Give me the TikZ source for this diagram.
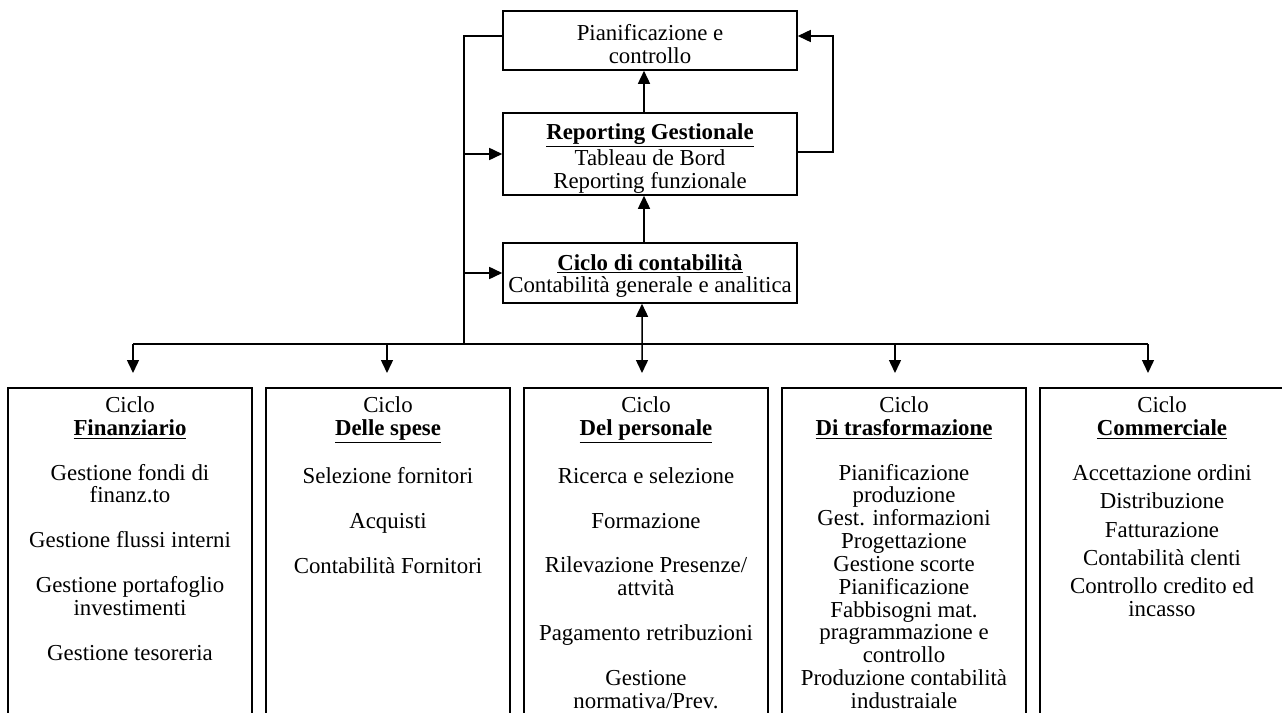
\documentclass[tikz,border=0pt]{standalone}
\usepackage{fontspec}
\setmainfont{Liberation Serif}
\usetikzlibrary{arrows.meta,positioning}

\begin{document}
\begin{tikzpicture}[
            x=0.02cm, y=-0.02cm,
            font=\fontsize{13}{13}\selectfont,
            blocco/.style={rectangle, draw=black, line width=0.9pt, minimum width=5.88cm, align=center, inner sep=2pt},
            ciclo/.style={rectangle, draw=black, line width=0.9pt, minimum width=4.88cm, minimum height=7.04cm},
            testo/.style={align=center, inner sep=0pt},
            linea/.style={line width=0.85pt},
            arrow/.style={line width=0.85pt, -{Triangle[length=0.26cm, width=0.24cm]}},
            doppia/.style={line width=0.85pt, {Triangle[length=0.26cm, width=0.24cm]}-{Triangle[length=0.26cm, width=0.24cm]}}
        ]
        \useasboundingbox (0,0) rectangle (1282,713);
        \clip (0,0) rectangle (1282,713);

        % Nodi
        \node (pianif) [blocco, minimum height=1.18cm] at (650,40.5) {\rule{0pt}{13.5pt}Pianificazione e\\controllo};
        \node (reporting) [blocco, inner ysep=0pt, minimum height=1.64cm] at (650,154) {\rule{0pt}{14pt}\underline{\textbf{Reporting Gestionale}}\\Tableau de Bord\\Reporting funzionale};
        \node (contab) [blocco, minimum height=1.2cm] at (650,273) {\rule{0pt}{12.4pt}\underline{\textbf{Ciclo di contabilità}}\\Contabilità generale e analitica};

        % Cicli
        \node (fin_box) [ciclo] at (130,564) {};
        \node (spese_box) [ciclo] at (388,564) {};
        \node (pers_box) [ciclo] at (646,564) {};
        \node (trasf_box) [ciclo] at (904,564) {};
        \node (comm_box) [ciclo] at (1162,564) {};

        \node (fin) [testo, below=0.18cm of fin_box.north] {Ciclo\\\underline{\textbf{Finanziario}}\\[12.5pt]Gestione fondi di\\finanz.to\\[12.5pt]Gestione flussi interni\\[12.5pt]Gestione portafoglio\\investimenti\\[12.5pt]Gestione tesoreria};
        \node (spese) [testo, below=0.18cm of spese_box.north] {Ciclo\\\underline{\textbf{Delle spese}}\\[12.5pt]Selezione fornitori\\[12.5pt]Acquisti\\[12.5pt]Contabilità Fornitori};
        \node (pers) [testo, below=0.18cm of pers_box.north] {Ciclo\\\underline{\textbf{Del personale}}\\[12.5pt]Ricerca e selezione\\[12.5pt]Formazione\\[12.5pt]Rilevazione Presenze/\\attvità\\[12.5pt]Pagamento retribuzioni\\[12.5pt]Gestione\\normativa/Prev.};
        \node (trasf) [testo, below=0.18cm of trasf_box.north] {Ciclo\\\underline{\textbf{Di trasformazione}}\\[12.5pt]Pianificazione\\produzione\\Gest. informazioni\\Progettazione\\Gestione scorte\\Pianificazione\\Fabbisogni mat.\\pragrammazione e\\controllo\\Produzione contabilità\\industraiale};
        \node (comm) [testo, below=0.18cm of comm_box.north] {Ciclo\\\underline{\textbf{Commerciale}}\\[12.5pt]Accettazione ordini\\[3.2pt]Distribuzione\\[3.2pt]Fatturazione\\[3.2pt]Contabilità clenti\\[3.2pt]Controllo credito ed\\incasso};

        \coordinate (bus) at (464,344);
        \coordinate (d1) at (133,373);
        \coordinate (d2) at (387,373);
        \coordinate (d3) at (642,373);
        \coordinate (d4) at (895,373);
        \coordinate (d5) at (1148,373);

        % Collegamenti
        \draw [arrow] ([xshift=-0.12cm]reporting.north) -- ([xshift=-0.12cm]pianif.south);
        \draw [arrow] ([xshift=-0.12cm]contab.north) -- ([xshift=-0.12cm]reporting.south);
        \draw [arrow] ([yshift=0.04cm]reporting.east) -- ++(35,0) |- ([yshift=0.09cm]pianif.east);

        \draw [linea] ([yshift=0.09cm]pianif.west) -| (bus);
        \draw [arrow] (reporting.west -| bus) -- (reporting.west);
        \draw [arrow] (contab.west -| bus) -- (contab.west);

        \draw [linea] (d1 |- bus) -- (d5 |- bus);
        \foreach \d in {d1,d2,d4,d5}
            \draw [arrow] (\d |- bus) -- (\d);
        \draw [doppia] ([xshift=-0.16cm]contab.south) -- (d3);

    \end{tikzpicture}
\end{document}
